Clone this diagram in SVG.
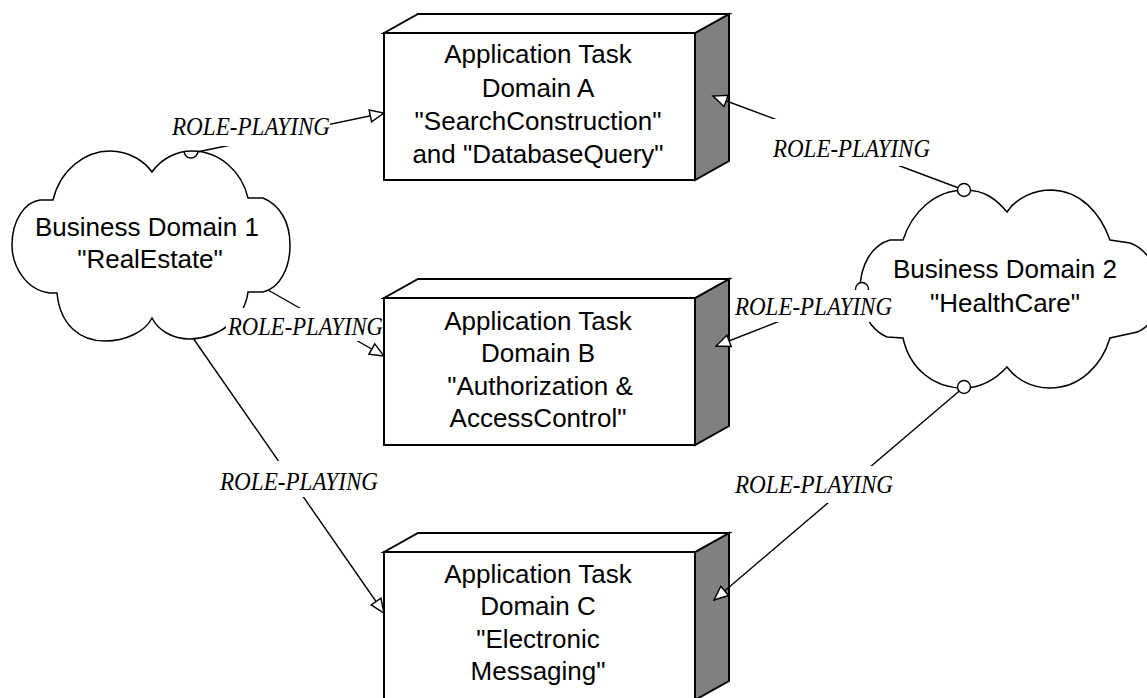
<svg xmlns="http://www.w3.org/2000/svg" width="1147" height="698" viewBox="0 0 1147 698">
<defs>
<style>
.front{fill:#fff;stroke:#000;stroke-width:2}
.top{fill:#fff;stroke:#000;stroke-width:2}
.side{fill:#808080;stroke:#000;stroke-width:2}
.cloud{fill:#fff;stroke:#000;stroke-width:1.5}
.nt{font-family:"Liberation Sans",Arial,sans-serif;font-size:26px;fill:#000;text-anchor:middle}
.conn{stroke:#000;stroke-width:1.4;fill:none}
.lbl{font-family:"Liberation Serif","Times New Roman",serif;font-style:italic;font-size:26px;fill:#000}
.lb{fill:#fff}
.lol{fill:#fff;stroke:#000;stroke-width:1.4}
</style>
<marker id="tri" markerUnits="userSpaceOnUse" markerWidth="18" markerHeight="16" viewBox="-2 -2 18 16" refX="14" refY="6" orient="auto">
<path d="M0,0 L14,6 L0,12 Z" fill="#fff" stroke="#000" stroke-width="1.4"/>
</marker>
</defs>
<rect width="1147" height="698" fill="#fff"/>

<g id="cloud1">
<path class="cloud" d="M53,200 C60,170 85,151 110,151 C130,151 145,162 152,172 C162,158 177,151 192,151 C220,151 242,172 248,198 L263,198 C280,205 290,222 290,245 C290,268 280,288 263,292 L248,292 C245,318 220,338 190,339 C172,339 158,330 152,318 C145,332 125,341 105,341 C80,341 60,325 57,293 L50,293 C25,290 12,265 12,245 C12,220 25,202 40,200 Z"/>
<text class="nt"><tspan x="147" y="236">Business Domain 1</tspan><tspan x="150" y="268">"RealEstate"</tspan></text>
</g>

<g id="cloud2">
<path class="cloud" d="M903,240 C912,212 935,190 965,190 C985,190 997,200 1007,212 C1017,197 1035,190 1052,190 C1080,191 1100,212 1110,240 L1130,243 C1150,250 1160,275 1160,290 C1160,310 1150,330 1133,333 L1110,338 C1102,365 1080,388 1050,388 C1030,388 1015,378 1007,367 C995,380 980,388 963,388 C935,388 910,370 903,338 L887,337 C870,330 860,310 860,290 C860,265 872,245 890,240 Z"/>
<text class="nt"><tspan x="1005" y="278">Business Domain 2</tspan><tspan x="1005" y="312">"HealthCare"</tspan></text>
</g>

<g id="boxA">
<polygon class="side" points="695,33 729,14 729,161 695,180"/>
<polygon class="top" points="384,33 418,14 729,14 695,33"/>
<rect class="front" x="384" y="33" width="311" height="147"/>
<text class="nt"><tspan x="538" y="63">Application Task</tspan><tspan x="538" y="97">Domain A</tspan><tspan x="538" y="130">"SearchConstruction"</tspan><tspan x="538" y="163">and "DatabaseQuery"</tspan></text>
</g>

<g id="boxB">
<polygon class="side" points="695,298 729,279 729,426 695,445"/>
<polygon class="top" points="384,298 418,279 729,279 695,298"/>
<rect class="front" x="384" y="298" width="311" height="147"/>
<text class="nt"><tspan x="538" y="330">Application Task</tspan><tspan x="538" y="362">Domain B</tspan><tspan x="540" y="395">"Authorization &amp;</tspan><tspan x="538" y="427">AccessControl"</tspan></text>
</g>

<g id="boxC">
<polygon class="side" points="695,552 729,533 729,681 695,700"/>
<polygon class="top" points="384,552 418,533 729,533 695,552"/>
<rect class="front" x="384" y="552" width="311" height="148"/>
<text class="nt"><tspan x="538" y="583">Application Task</tspan><tspan x="538" y="615">Domain C</tspan><tspan x="538" y="648">"Electronic</tspan><tspan x="538" y="680">Messaging"</tspan></text>
</g>

<g id="connectors">
<line class="conn" x1="197" y1="152" x2="384" y2="113" marker-end="url(#tri)"/>
<path class="conn" d="M184,151 A7,7 0 0 0 198,151"/>
<line class="conn" x1="268" y1="290" x2="384" y2="356" marker-end="url(#tri)"/>
<line class="conn" x1="193" y1="338" x2="384" y2="613" marker-end="url(#tri)"/>
<line class="conn" x1="964" y1="190" x2="713" y2="96" marker-end="url(#tri)"/>
<line class="conn" x1="862" y1="289" x2="716" y2="346" marker-end="url(#tri)"/>
<line class="conn" x1="964" y1="387" x2="714" y2="600" marker-end="url(#tri)"/>
<circle class="lol" cx="964" cy="190" r="6.5"/>
<circle class="lol" cx="862" cy="289" r="6.5"/>
<circle class="lol" cx="964" cy="387" r="6.5"/>

<g id="labels">
<rect class="lb" x="172" y="114" width="158" height="32"/>
<text class="lbl" x="172" y="135" textLength="158" lengthAdjust="spacingAndGlyphs">ROLE-PLAYING</text>
<rect class="lb" x="226" y="308" width="156" height="33"/>
<text class="lbl" x="228" y="335" textLength="155" lengthAdjust="spacingAndGlyphs">ROLE-PLAYING</text>
<rect class="lb" x="218" y="461" width="162" height="36"/>
<text class="lbl" x="220" y="490" textLength="158" lengthAdjust="spacingAndGlyphs">ROLE-PLAYING</text>
<rect class="lb" x="773" y="119" width="157" height="47"/>
<text class="lbl" x="773" y="157" textLength="157" lengthAdjust="spacingAndGlyphs">ROLE-PLAYING</text>
<rect class="lb" x="735" y="290" width="155" height="32"/>
<text class="lbl" x="735" y="315" textLength="157" lengthAdjust="spacingAndGlyphs">ROLE-PLAYING</text>
<rect class="lb" x="733" y="466" width="162" height="37"/>
<text class="lbl" x="735" y="493" textLength="158" lengthAdjust="spacingAndGlyphs">ROLE-PLAYING</text>
</g>
</g>
</svg>
